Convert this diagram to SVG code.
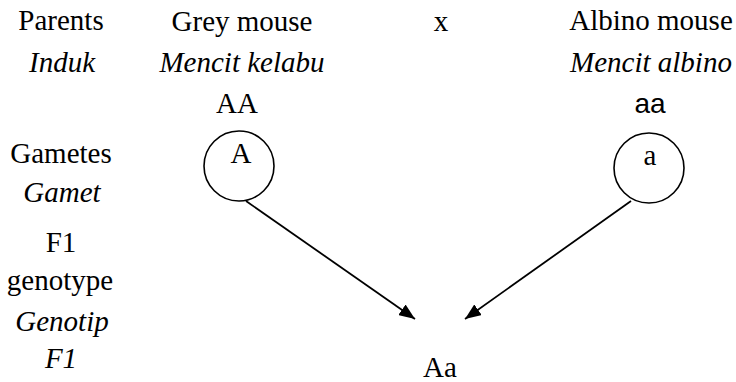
<svg xmlns="http://www.w3.org/2000/svg" width="736" height="382" viewBox="0 0 736 382">
<defs>
<style>
.t{font-family:"Liberation Serif","Times New Roman",serif;font-size:29px;fill:#000;text-anchor:middle}
.i{font-style:italic}
.s{font-family:"Liberation Sans",Arial,sans-serif;font-size:28px;fill:#000;text-anchor:middle}
.c{fill:none;stroke:#000;stroke-width:1.6}
.l{stroke:#000;stroke-width:1.8;fill:none;marker-end:url(#ah)}
</style>
<marker id="ah" viewBox="0 0 16 13" refX="16" refY="6.5" markerWidth="16" markerHeight="13" markerUnits="userSpaceOnUse" orient="auto">
<path d="M0,0 L16,6.5 L0,13 z" fill="#000"/>
</marker>
</defs>
<rect width="736" height="382" fill="#fff"/>
<g id="labels">
<text class="t" x="61" y="30">Parents</text>
<text class="t i" x="62" y="72">Induk</text>
<text class="t" x="61" y="163">Gametes</text>
<text class="t i" x="62" y="202">Gamet</text>
<text class="t" x="61" y="252">F1</text>
<text class="t" x="60" y="290">genotype</text>
<text class="t i" x="62" y="331">Genotip</text>
<text class="t i" x="61" y="368">F1</text>
</g>
<g id="grey-parent">
<text class="t" x="242" y="31">Grey mouse</text>
<text class="t i" x="242" y="72">Mencit kelabu</text>
<text class="t" x="237" y="113">AA</text>
</g>
<g id="cross"><text class="t" x="441" y="31">x</text></g>
<g id="albino-parent">
<text class="t" x="651" y="30">Albino mouse</text>
<text class="t i" x="651" y="72">Mencit albino</text>
<text class="s" x="650" y="113">aa</text>
</g>
<g id="gamete-A">
<circle class="c" cx="239" cy="166" r="35"/>
<text class="t" x="241" y="163">A</text>
</g>
<g id="gamete-a">
<circle class="c" cx="649" cy="168" r="35"/>
<text class="t" x="650" y="165">a</text>
</g>
<g id="offspring"><text class="t" x="440" y="377">Aa</text></g>
<g id="connectors">
<line class="l" x1="246" y1="201" x2="415" y2="319"/>
<line class="l" x1="631" y1="201" x2="465" y2="319"/>
</g>
</svg>
